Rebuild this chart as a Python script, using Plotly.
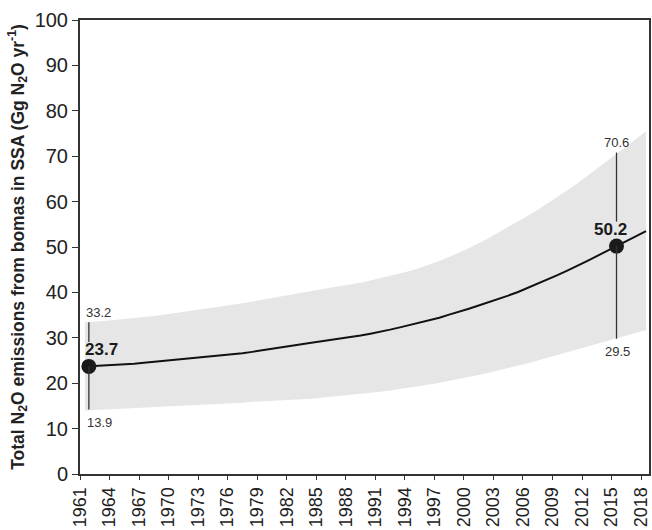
import plotly.graph_objects as go

years = list(range(1961, 2019))

central = [
    23.7, 23.8, 23.9, 24.0, 24.1, 24.3, 24.5, 24.7, 24.9, 25.1,
    25.3, 25.5, 25.7, 25.9, 26.1, 26.3, 26.6, 26.9, 27.3, 27.6,
    27.9, 28.3, 28.6, 28.9, 29.2, 29.5, 29.8, 30.1, 30.5, 30.9,
    31.3, 31.8, 32.3, 32.8, 33.3, 33.8, 34.4, 35.1, 35.7, 36.4,
    37.1, 37.8, 38.5, 39.3, 40.1, 41.0, 41.9, 42.8, 43.8, 44.8,
    45.8, 46.9, 48.0, 49.1, 50.2, 51.3, 52.4, 53.5,
]

upper = [
    33.4, 33.5, 33.7, 33.9, 34.1, 34.3, 34.5, 34.8, 35.1, 35.4,
    35.7, 36.0, 36.3, 36.6, 36.9, 37.2, 37.6, 38.0, 38.4, 38.8,
    39.2, 39.6, 40.0, 40.4, 40.8, 41.1, 41.4, 41.7, 42.1, 42.6,
    43.1, 43.6, 44.1, 44.7, 45.4, 46.1, 46.9, 47.8, 48.7, 49.7,
    50.8, 51.9, 53.2, 54.4, 55.6, 56.9, 58.2, 59.6, 61.0, 62.5,
    64.0, 65.6, 67.2, 68.9, 70.6, 72.2, 73.8, 75.5,
]

lower = [
    14.0, 14.1, 14.2, 14.3, 14.4, 14.5, 14.6, 14.7, 14.8, 14.9,
    15.0, 15.1, 15.3, 15.4, 15.5, 15.6, 15.7, 15.9, 16.0, 16.1,
    16.2, 16.3, 16.4, 16.6, 16.8, 17.0, 17.2, 17.4, 17.6, 17.9,
    18.1, 18.4, 18.7, 19.0, 19.3, 19.7, 20.1, 20.5, 20.9, 21.3,
    21.8, 22.3, 22.8, 23.3, 23.8, 24.4, 25.0, 25.6, 26.2, 26.8,
    27.4, 28.0, 28.6, 29.2, 29.8, 30.4, 31.0, 31.7,
]

# highlighted years with their labelled estimate and range
hl_years = [1961, 2015]
hl_value = [23.7, 50.2]
hl_high = [33.2, 70.6]
hl_low = [13.9, 29.5]

tick_years = list(range(1961, 2019, 3))

# values plotted at mid-year
x_mid = [y + 0.5 for y in years]
hl_x = [1961.9, 2015.5]

FONT = "Liberation Sans, Arial, sans-serif"

fig = go.Figure()
fig.add_trace(go.Scatter(x=x_mid, y=lower, mode="lines", line=dict(width=0),
                         hoverinfo="skip", showlegend=False))
fig.add_trace(go.Scatter(x=x_mid, y=upper, mode="lines", line=dict(width=0),
                         fill="tonexty", fillcolor="#e6e6e6",
                         hoverinfo="skip", showlegend=False))
fig.add_trace(go.Scatter(x=x_mid, y=central, mode="lines",
                         line=dict(color="#111111", width=2), showlegend=False))

# whiskers: top piece stops short of the bold label
for x, v, hi, lo in zip(hl_x, hl_value, hl_high, hl_low):
    fig.add_shape(type="line", x0=x, x1=x, y0=hi + 0.2, y1=v + 5.4,
                  line=dict(color="#333333", width=1.3))
    fig.add_shape(type="line", x0=x, x1=x, y0=v, y1=lo + 0.3,
                  line=dict(color="#333333", width=1.3))

fig.add_trace(go.Scatter(x=hl_x, y=hl_value, mode="markers",
                         marker=dict(color="#1a1a1a", size=15), showlegend=False))

for i, (x, v, hi, lo) in enumerate(zip(hl_x, hl_value, hl_high, hl_low)):
    anchor = "left" if i == 0 else "center"
    dx = -5 if i == 0 else 0
    fig.add_annotation(x=x, y=hi, text=f"{hi}", showarrow=False, xanchor=anchor,
                       yanchor="bottom", xshift=dx, yshift=1,
                       font=dict(family=FONT, size=13, color="#333333"))
    fig.add_annotation(x=x, y=lo, text=f"{lo}", showarrow=False, xanchor=anchor,
                       yanchor="top", xshift=dx + 1, yshift=-2,
                       font=dict(family=FONT, size=13, color="#333333"))
    fig.add_annotation(x=x, y=v, text=f"<b>{v}</b>", showarrow=False, xanchor=anchor,
                       yanchor="bottom", xshift=dx - 1 if i == 0 else -6, yshift=5,
                       font=dict(family=FONT, size=17, color="#1a1a1a"))

fig.update_xaxes(
    range=[1961, 2018.8], automargin=False,
    tickmode="array", tickvals=tick_years, ticktext=[str(t) for t in tick_years],
    tickangle=-90, ticks="outside", ticklen=4, tickcolor="#333333",
    showline=True, linecolor="#333333", linewidth=2, mirror=True,
    showgrid=False, zeroline=False,
    tickfont=dict(family=FONT, size=18, color="#222222"),
)
fig.update_yaxes(
    range=[0, 100], dtick=10, automargin=False,
    ticks="outside", ticklen=6, tickcolor="#333333",
    showline=True, linecolor="#333333", linewidth=2, mirror=True,
    showgrid=False, zeroline=False,
    tickfont=dict(family=FONT, size=20, color="#222222"),
    title=dict(
        text="<b>Total N<sub>2</sub>O emissions from bomas in SSA (Gg N<sub>2</sub>O yr<sup>-1</sup>)</b>",
        font=dict(family=FONT, size=17.5, color="#222222"), standoff=6,
    ),
)
fig.update_layout(
    width=652, height=530,
    margin=dict(l=80, r=3, t=20, b=56),
    plot_bgcolor="white", paper_bgcolor="white",
    font=dict(family=FONT),
)

# drop the page's default body margin so the figure sits at the window corner
fig.write_html("out.html", config={"displayModeBar": False},
               post_script="document.body.style.margin='0';")
